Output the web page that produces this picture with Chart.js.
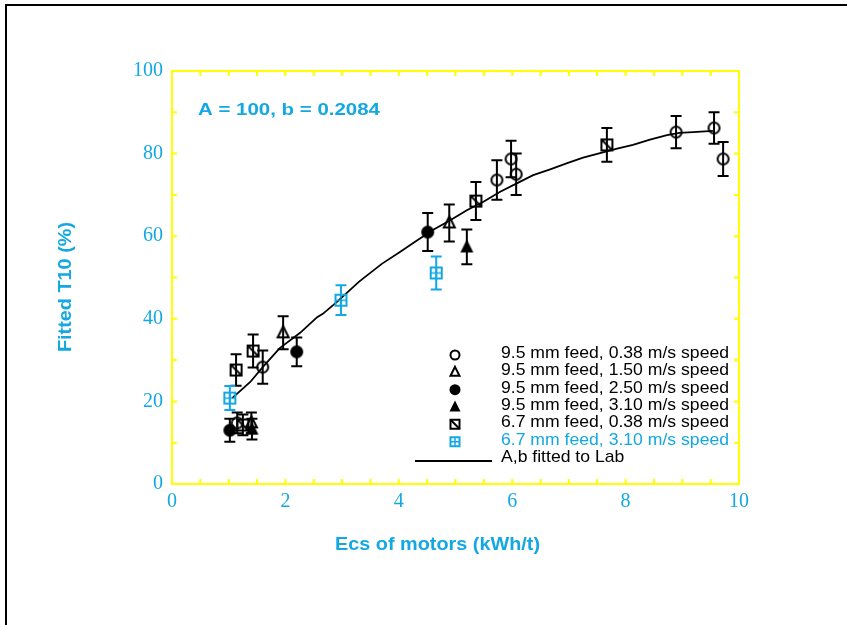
<!DOCTYPE html>
<html>
<head>
<meta charset="utf-8">
<script src="https://cdn.jsdelivr.net/npm/chart.js@4/dist/chart.umd.min.js"></script>
<style>
  html, body { margin: 0; padding: 0; background: #fff; }
  canvas { display: block; }
</style>
</head>
<body>
<canvas id="chart" width="847" height="625"></canvas>
<script>
// ── data ─────────────────────────────────────────────────────────────────────
const xTicks = [0, 2, 4, 6, 8, 10];
const yTicks = [0, 20, 40, 60, 80, 100];

const seriesLabels = [
  '9.5 mm feed, 0.38 m/s speed',
  '9.5 mm feed, 1.50 m/s speed',
  '9.5 mm feed, 2.50 m/s speed',
  '9.5 mm feed, 3.10 m/s speed',
  '6.7 mm feed, 0.38 m/s speed',
  '6.7 mm feed, 3.10 m/s speed'
];
const fitLabel = 'A,b fitted to Lab';
const noteText = 'A = 100, b = 0.2084';

// 9.5 mm, 0.38 m/s (open circle)
const circOpenX   = [1.15, 1.60, 5.73, 5.98, 6.07, 8.89, 9.56, 9.72];
const circOpenY   = [14.8, 28.3, 73.6, 78.7, 75.0, 85.2, 86.2, 78.7];
const circOpenErr = [2.5, 4.0, 4.8, 4.4, 5.0, 3.9, 3.8, 4.1];
// 9.5 mm, 1.50 m/s (open triangle)
const triOpenX   = [1.40, 1.96, 4.89];
const triOpenY   = [14.8, 36.6, 63.2];
const triOpenErr = [2.5, 4.0, 4.5];
// 9.5 mm, 2.50 m/s (filled circle)
const circFillX   = [1.02, 2.20, 4.51];
const circFillY   = [13.0, 32.0, 61.0];
const circFillErr = [2.8, 3.5, 4.6];
// 9.5 mm, 3.10 m/s (filled triangle)
const triFillX   = [1.41, 5.20];
const triFillY   = [13.3, 57.4];
const triFillErr = [2.5, 4.2];
// 6.7 mm, 0.38 m/s (square with diagonal)
const sqDiagX   = [1.13, 1.25, 1.43, 5.36, 7.67];
const sqDiagY   = [27.6, 14.3, 32.2, 68.5, 82.1];
const sqDiagErr = [3.8, 2.5, 4.0, 4.6, 4.1];
// 6.7 mm, 3.10 m/s (cyan square with cross)
const sqPlusX   = [1.02, 2.98, 4.66];
const sqPlusY   = [20.8, 44.5, 51.1];
const sqPlusErr = [2.9, 3.6, 4.0];

// fitted curve
const fitX = [1.06, 1.16, 1.38, 1.60, 1.90, 2.26, 2.56, 2.66, 2.91, 3.30, 3.70, 4.02, 4.30, 4.60, 4.90,
              5.20, 5.50, 5.78, 6.08, 6.37, 6.67, 6.97, 7.25, 7.55, 7.85, 8.13, 8.43, 8.73, 8.95, 9.19, 9.54];
const fitY = [20.8, 22.0, 24.7, 28.3, 32.9, 36.6, 40.4, 41.2, 44.1, 49.0, 53.3, 56.2, 58.8, 61.5, 63.8,
              66.3, 68.4, 70.7, 72.8, 74.8, 76.2, 77.7, 79.0, 80.1, 81.2, 82.1, 83.4, 84.5, 85.0, 85.2, 85.5];

// ── styles ───────────────────────────────────────────────────────────────────
const CYAN   = '#14a8e2';
const YELLOW = '#ffff00';
const BLACK  = '#000000';

function drawMarker(ctx, kind, cx, cy, s, color) {
  let h = s / 2;
  const filled = kind.endsWith('Fill');
  if (filled) h += 1;
  ctx.save();
  ctx.strokeStyle = color; ctx.fillStyle = color; ctx.lineWidth = 2;
  ctx.beginPath();
  if (kind === 'circle' || kind === 'circleFill') {
    ctx.arc(cx, cy, h, 0, Math.PI * 2);
  } else if (kind === 'tri' || kind === 'triFill') {
    ctx.moveTo(cx, cy - h - 1); ctx.lineTo(cx + h, cy + h - 1); ctx.lineTo(cx - h, cy + h - 1); ctx.closePath();
  } else {
    ctx.rect(cx - h, cy - h, s, s);
  }
  if (filled) ctx.fill(); else ctx.stroke();
  if (kind === 'sqDiag') {
    ctx.beginPath(); ctx.moveTo(cx - h, cy - h); ctx.lineTo(cx + h, cy + h); ctx.stroke();
  }
  if (kind === 'sqPlus') {
    ctx.lineWidth = 1.5;
    ctx.beginPath();
    ctx.moveTo(cx - h, cy); ctx.lineTo(cx + h, cy);
    ctx.moveTo(cx, cy - h); ctx.lineTo(cx, cy + h);
    ctx.stroke();
  }
  ctx.restore();
}

function markerImage(kind, s, color) {
  const c = document.createElement('canvas');
  c.width = c.height = s + 8;
  drawMarker(c.getContext('2d'), kind, (s + 8) / 2, (s + 8) / 2, s, color);
  return c;
}

const series = [
  { kind: 'circle',     color: BLACK, xs: circOpenX, ys: circOpenY, err: circOpenErr },
  { kind: 'tri',        color: BLACK, xs: triOpenX,  ys: triOpenY,  err: triOpenErr },
  { kind: 'circleFill', color: BLACK, xs: circFillX, ys: circFillY, err: circFillErr },
  { kind: 'triFill',    color: BLACK, xs: triFillX,  ys: triFillY,  err: triFillErr },
  { kind: 'sqDiag',     color: BLACK, xs: sqDiagX,   ys: sqDiagY,   err: sqDiagErr },
  { kind: 'sqPlus',     color: CYAN,  xs: sqPlusX,   ys: sqPlusY,   err: sqPlusErr }
];

const datasets = series.map((s, i) => ({
  label: seriesLabels[i],
  data: s.xs.map((x, j) => ({ x, y: s.ys[j] })),
  errors: s.err,
  errColor: s.color,
  pointStyle: markerImage(s.kind, 11, s.color),
  pointRadius: 6,
  showLine: false
}));
datasets.push({
  label: fitLabel,
  data: fitX.map((x, j) => ({ x, y: fitY[j] })),
  showLine: true, borderColor: BLACK, borderWidth: 1.8,
  pointRadius: 0, tension: 0, fill: false
});

// ── helpers ──────────────────────────────────────────────────────────────────
function fitText(ctx, text, x, y, font, width, color, rot) {
  ctx.save();
  ctx.font = font; ctx.fillStyle = color;
  ctx.textAlign = 'left'; ctx.textBaseline = 'alphabetic';
  const w = ctx.measureText(text).width;
  ctx.translate(x, y);
  if (rot) ctx.rotate(rot);
  ctx.scale(width / w, 1);
  ctx.fillText(text, 0, 0);
  ctx.restore();
}

// ── plugins ──────────────────────────────────────────────────────────────────
const errorBars = {
  id: 'errorBars',
  beforeDatasetsDraw(chart) {
    const { ctx, scales: { x, y } } = chart;
    chart.data.datasets.forEach(ds => {
      if (!ds.errors) return;
      ctx.save();
      ctx.strokeStyle = ds.errColor; ctx.lineWidth = 2;
      ds.data.forEach((p, i) => {
        const px  = x.getPixelForValue(p.x);
        const top = y.getPixelForValue(p.y + ds.errors[i]);
        const bot = y.getPixelForValue(p.y - ds.errors[i]);
        ctx.beginPath();
        ctx.moveTo(px, top); ctx.lineTo(px, bot);
        ctx.moveTo(px - 5.5, top); ctx.lineTo(px + 5.5, top);
        ctx.moveTo(px - 5.5, bot); ctx.lineTo(px + 5.5, bot);
        ctx.stroke();
      });
      ctx.restore();
    });
  }
};

const frame = {
  id: 'frame',
  afterDatasetsDraw(chart) {
    const { ctx, chartArea: a, scales: { x, y } } = chart;
    ctx.save();
    ctx.strokeStyle = YELLOW; ctx.lineWidth = 2;
    ctx.strokeRect(a.left, a.top, a.right - a.left, a.bottom - a.top);
    ctx.beginPath();
    for (let v = 0.5; v < 10; v += 0.5) {
      const px = x.getPixelForValue(v);
      ctx.moveTo(px, a.bottom); ctx.lineTo(px, a.bottom - 5);
      ctx.moveTo(px, a.top);    ctx.lineTo(px, a.top + 5);
    }
    for (let v = 10; v < 100; v += 10) {
      const py = y.getPixelForValue(v);
      ctx.moveTo(a.left, py);  ctx.lineTo(a.left + 5, py);
      ctx.moveTo(a.right, py); ctx.lineTo(a.right - 5, py);
    }
    ctx.stroke();
    ctx.restore();
  }
};

const decor = {
  id: 'decor',
  afterDraw(chart) {
    const ctx = chart.ctx;
    // outer frame (top and left edges only)
    ctx.save();
    ctx.strokeStyle = BLACK; ctx.lineWidth = 2;
    ctx.beginPath();
    ctx.moveTo(6, 625); ctx.lineTo(6, 5); ctx.lineTo(847, 5);
    ctx.stroke();
    ctx.restore();

    const bold = 'bold 17px "Liberation Sans", Arial, sans-serif';
    fitText(ctx, noteText, 198, 115, bold, 182, CYAN);
    fitText(ctx, 'Ecs of motors (kWh/t)', 335, 550, 'bold 18px "Liberation Sans", Arial, sans-serif', 205, CYAN);
    fitText(ctx, 'Fitted T10 (%)', 71, 352, 'bold 18px "Liberation Sans", Arial, sans-serif', 130, CYAN, -Math.PI / 2);

    // legend
    const lf = '17px "Liberation Sans", Arial, sans-serif';
    ctx.save(); ctx.font = lf;
    const k = 228 / ctx.measureText(seriesLabels[0]).width;
    ctx.restore();
    const rows = [...seriesLabels, fitLabel];
    rows.forEach((t, i) => {
      const base = 358 + i * 17.33;
      ctx.save(); ctx.font = lf;
      const w = ctx.measureText(t).width * k;
      ctx.restore();
      fitText(ctx, t, 501, base, lf, w, i === 5 ? CYAN : BLACK);
      if (i < 6) {
        drawMarker(ctx, series[i].kind, 455, base - 3, 9, series[i].color);
      } else {
        ctx.save();
        ctx.strokeStyle = BLACK; ctx.lineWidth = 1.8;
        ctx.beginPath(); ctx.moveTo(415, base - 1); ctx.lineTo(492, base - 1); ctx.stroke();
        ctx.restore();
      }
    });
  }
};

// ── chart ────────────────────────────────────────────────────────────────────
const tickFont = { family: '"Liberation Serif", "Times New Roman", serif', size: 20 };

new Chart(document.getElementById('chart'), {
  type: 'scatter',
  data: { datasets },
  options: {
    responsive: false, animation: false, devicePixelRatio: 1,
    layout: { padding: { left: 0, top: 71, right: 108, bottom: 0 } },
    plugins: { legend: { display: false }, tooltip: { enabled: false } },
    scales: {
      x: {
        type: 'linear', min: 0, max: 10,
        afterBuildTicks: s => { s.ticks = xTicks.map(v => ({ value: v })); },
        afterFit: s => { s.height = 141; },
        ticks: { font: tickFont, color: CYAN, padding: 6, maxRotation: 0 },
        grid: { display: false, drawTicks: false },
        border: { display: false }
      },
      y: {
        type: 'linear', min: 0, max: 100,
        afterBuildTicks: s => { s.ticks = yTicks.map(v => ({ value: v })); },
        afterFit: s => { s.width = 172; },
        ticks: { font: tickFont, color: CYAN, padding: 9 },
        grid: { display: false, drawTicks: false },
        border: { display: false }
      }
    }
  },
  plugins: [errorBars, frame, decor]
});
</script>
</body>
</html>
